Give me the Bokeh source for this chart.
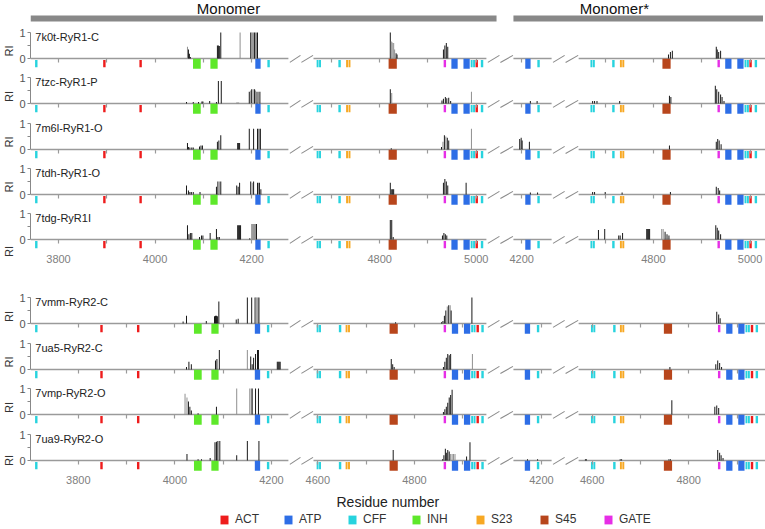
from bokeh.plotting import figure
from bokeh.models import Range1d, FixedTicker, Label, Legend, LegendItem, ColumnDataSource
from bokeh.layouts import column
from bokeh.core.properties import value
from bokeh.embed import file_html
from bokeh.resources import INLINE

FONT = "Liberation Sans"

# ---------------------------------------------------------------- data
CATEGORIES = ["ACT", "ATP", "CFF", "INH", "S23", "S45", "GATE"]
CAT_COLORS = ["#ee1c1c", "#2e6ee6", "#27d3de", "#5ee82a", "#f7a823", "#b8461c", "#e62ee6"]

GROUPS = ["Monomer", "Monomer*"]

# residue windows shown on the broken axis (A, B = Monomer ; C, D = Monomer*)
RYR1_WINDOWS = [(3742, 4276), (4663, 5021), (4183, 4262), (4645, 5032)]
RYR2_WINDOWS = [(3701, 4235), (4591, 4949), (4142, 4221), (4572, 4959)]

# site annotations (category, first residue, last residue)
RYR1_SITE_CAT = ["ACT", "ACT", "ACT", "ATP", "ATP", "ATP",
                 "CFF", "CFF", "CFF", "CFF", "CFF", "CFF", "CFF", "CFF",
                 "INH", "INH", "S23", "S23", "S45", "GATE"]
RYR1_SITE_FROM = [3893, 3968, 4999, 4208, 4949, 4974,
                  3752, 4233, 4670, 4675, 4715, 4989, 4994, 5010,
                  4079, 4115, 4731, 4736, 4819, 4933]
RYR1_SITE_TO = [3897, 3972, 5003, 4218, 4961, 4986,
                3756, 4237, 4673, 4678, 4719, 4992, 4997, 5014,
                4094, 4129, 4734, 4739, 4835, 4937]

RYR2_SITE_CAT = RYR1_SITE_CAT
RYR2_SITE_FROM = [3846, 3922, 4929, 4166, 4878, 4903,
                  3711, 4191, 4598, 4603, 4644, 4918, 4923, 4939,
                  4040, 4076, 4658, 4663, 4749, 4861]
RYR2_SITE_TO = [3850, 3926, 4933, 4176, 4890, 4915,
                3715, 4195, 4601, 4606, 4648, 4921, 4926, 4943,
                4055, 4090, 4661, 4666, 4765, 4865]

PANEL_NAMES = ["7k0t-RyR1-C", "7tzc-RyR1-P", "7m6l-RyR1-O", "7tdh-RyR1-O", "7tdg-RyR1I",
               "7vmm-RyR2-C", "7ua5-RyR2-C", "7vmp-RyR2-O", "7ua9-RyR2-O"]
PANEL_ISOFORM = [1, 1, 1, 1, 1, 2, 2, 2, 2]

# RI values per residue (Monomer) and (Monomer*); GREY = 1 for grey bars
P1_RES = [4067, 4069, 4071, 4073, 4129, 4131, 4133, 4136, 4176, 4198, 4200, 4202, 4204, 4206, 4208, 4210, 4212,
          4822, 4824, 4826, 4829, 4831, 4834, 4836, 4932, 4935, 4938, 4941]
P1_RI = [0.45, 0.35, 0.18, 0.06, 0.5, 0.5, 0.48, 1.0, 1.0, 1.0, 1.0, 1.0, 1.0, 1.0, 1.0, 1.0, 1.0,
         1.0, 0.65, 0.62, 0.6, 0.35, 0.2, 0.15, 0.35, 0.5, 0.6, 0.45]
P1_GREY = [1, 0, 0, 0, 0, 0, 0, 0, 1, 0, 1, 1, 1, 0, 1, 1, 0,
           0, 1, 1, 1, 1, 0, 0, 0, 0, 0, 0]
P1_STAR_RES = [4831, 4835, 4839, 4930, 4932, 4935, 4939]
P1_STAR_RI = [0.15, 0.25, 0.3, 0.45, 0.35, 0.25, 0.3]
P1_STAR_GREY = [0, 0, 0, 0, 0, 0, 0]

P2_RES = [4065, 4079, 4090, 4097, 4099, 4113, 4127, 4131, 4137, 4169, 4171, 4173,
          4195, 4198, 4200, 4203, 4206, 4208, 4211, 4214, 4217,
          4822, 4825, 4929, 4932, 4936, 4939, 4943, 4947, 4990]
P2_RI = [0.06, 0.06, 0.06, 0.08, 0.08, 0.1, 0.06, 0.87, 0.87, 0.04, 0.04, 0.04,
         0.45, 0.5, 0.55, 0.55, 0.55, 0.5, 0.45, 0.45, 0.45,
         0.55, 0.4, 0.12, 0.18, 0.25, 0.2, 0.22, 0.1, 0.45]
P2_GREY = [0, 0, 0, 0, 0, 0, 0, 0, 0, 1, 1, 1,
           0, 1, 0, 1, 0, 1, 0, 1, 0,
           0, 1, 0, 0, 0, 0, 0, 0, 1]
P2_STAR_RES = [4218, 4232, 4674, 4678, 4683, 4730, 4833, 4836, 4928, 4931, 4935, 4939, 4942, 4946]
P2_STAR_RI = [0.1, 0.1, 0.1, 0.1, 0.1, 0.1, 0.3, 0.25, 0.68, 0.55, 0.45, 0.35, 0.25, 0.1]
P2_STAR_GREY = [0, 0, 0, 0, 0, 0, 0, 0, 0, 0, 0, 0, 0, 0]

P3_RES = [4067, 4069, 4072, 4076, 4079, 4092, 4095, 4098, 4129, 4132, 4136, 4171, 4173, 4175,
          4195, 4204, 4212, 4214, 4216, 4218, 4824, 4928, 4931, 4934, 4937, 4940, 4943, 4990]
P3_RI = [0.25, 0.1, 0.08, 0.08, 0.08, 0.12, 0.15, 0.15, 0.3, 0.35, 0.55, 0.25, 0.25, 0.25,
         0.8, 0.8, 0.8, 0.8, 0.8, 0.8, 0.05, 0.1, 0.3, 0.55, 0.5, 0.45, 0.35, 0.8]
P3_GREY = [0, 0, 0, 0, 0, 0, 0, 0, 0, 0, 0, 0, 0, 0,
           0, 0, 0, 1, 1, 0, 0, 0, 1, 0, 1, 0, 0, 1]
P3_STAR_RES = [4196, 4199, 4201, 4216, 4833, 4930, 4933, 4936, 4940]
P3_STAR_RI = [0.4, 0.45, 0.35, 0.3, 0.15, 0.3, 0.4, 0.35, 0.2]
P3_STAR_GREY = [0, 0, 0, 0, 0, 0, 0, 0, 0]

P4_RES = [4065, 4069, 4072, 4075, 4079, 4093, 4127, 4130, 4133, 4136, 4169, 4172, 4175,
          4198, 4201, 4204, 4212, 4214, 4216, 4219, 4822, 4825, 4827, 4829, 4932, 4935, 4938, 4941, 4979]
P4_RI = [0.35, 0.15, 0.1, 0.1, 0.1, 0.1, 0.3, 0.5, 0.5, 0.5, 0.35, 0.3, 0.45,
         0.5, 0.45, 0.5, 0.45, 0.45, 0.45, 0.2, 0.45, 0.2, 0.2, 0.2, 0.45, 0.6, 0.5, 0.35, 0.45]
P4_GREY = [0, 0, 0, 0, 0, 0, 0, 0, 1, 0, 0, 0, 0,
           0, 1, 0, 0, 1, 0, 0, 0, 0, 0, 0, 0, 0, 0, 0, 0]
P4_STAR_RES = [4218, 4233, 4674, 4678, 4700, 4735, 4835, 4930, 4934, 4937]
P4_STAR_RI = [0.08, 0.08, 0.1, 0.1, 0.1, 0.08, 0.1, 0.3, 0.25, 0.15]
P4_STAR_GREY = [0, 0, 0, 0, 0, 0, 0, 0, 0, 0]

P5_RES = [4067, 4070, 4073, 4076, 4092, 4096, 4099, 4114, 4127, 4130, 4133, 4171, 4173, 4175, 4177,
          4196, 4200, 4202, 4204, 4206, 4208, 4210, 4822, 4825, 4828, 4930, 4933, 4936, 4939]
P5_RI = [0.55, 0.2, 0.25, 0.25, 0.1, 0.15, 0.15, 0.25, 0.4, 0.1, 0.1, 0.55, 0.55, 0.55, 0.55,
         0.05, 0.6, 0.6, 0.6, 0.6, 0.6, 0.6, 0.75, 0.75, 0.1, 0.15, 0.25, 0.2, 0.15]
P5_GREY = [0, 0, 0, 0, 0, 0, 0, 0, 0, 0, 0, 0, 0, 0, 0,
           0, 1, 1, 1, 1, 1, 0, 0, 0, 0, 0, 0, 0, 0]
P5_STAR_RES = [4686, 4699, 4728, 4731, 4736, 4786, 4788, 4790, 4792, 4817, 4820, 4824, 4828, 4832,
               4929, 4932, 4935, 4939]
P5_STAR_RI = [0.37, 0.4, 0.15, 0.15, 0.25, 0.4, 0.4, 0.4, 0.4, 0.4, 0.4, 0.3, 0.2, 0.15,
              0.55, 0.45, 0.35, 0.2]
P5_STAR_GREY = [0, 0, 0, 0, 0, 0, 0, 0, 0, 1, 1, 0, 0, 0, 0, 0, 0, 0]

P6_RES = [4017, 4024, 4065, 4082, 4084, 4086, 4088, 4091, 4127, 4131, 4150, 4159, 4166, 4168, 4170, 4172, 4174,
          4761, 4856, 4859, 4862, 4865, 4868, 4871, 4874, 4876, 4919]
P6_RI = [0.08, 0.3, 0.1, 0.28, 0.3, 0.3, 0.28, 0.85, 0.15, 0.18, 1.0, 1.0, 1.0, 1.0, 1.0, 1.0, 1.0,
         0.05, 0.05, 0.1, 0.3, 0.5, 0.65, 0.7, 0.7, 0.5, 1.0]
P6_GREY = [0, 0, 0, 0, 0, 0, 0, 0, 0, 0, 0, 0, 0, 1, 1, 1, 0,
           0, 0, 0, 0, 0, 1, 0, 1, 0, 0]
P6_STAR_RES = [4858, 4862, 4865]
P6_STAR_RI = [0.45, 0.35, 0.2]
P6_STAR_GREY = [0, 0, 0]

P7_RES = [4024, 4029, 4034, 4084, 4087, 4092, 4150, 4157, 4160, 4163, 4167, 4171, 4173,
          4212, 4214, 4216, 4218, 4752, 4755, 4758, 4860, 4863, 4866, 4869, 4872, 4875, 4920]
P7_RI = [0.1, 0.3, 0.2, 0.35, 0.4, 0.75, 0.75, 0.5, 0.2, 0.45, 0.6, 0.75, 0.75,
         0.3, 0.3, 0.3, 0.3, 0.4, 0.2, 0.1, 0.1, 0.3, 0.45, 0.6, 0.55, 0.6, 0.6]
P7_GREY = [0, 0, 0, 0, 0, 0, 1, 0, 0, 0, 0, 0, 0,
           0, 0, 0, 0, 0, 0, 0, 0, 0, 0, 0, 0, 0, 1]
P7_STAR_RES = [4761, 4856, 4860, 4864, 4868]
P7_STAR_RI = [0.1, 0.2, 0.35, 0.25, 0.1]
P7_STAR_GREY = [0, 0, 0, 0, 0]

P8_RES = [4021, 4025, 4028, 4031, 4034, 4048, 4086, 4128, 4155, 4158, 4160, 4167, 4173,
          4860, 4863, 4866, 4869, 4872, 4875, 4878]
P8_RI = [0.8, 0.65, 0.5, 0.3, 0.15, 0.05, 0.3, 1.0, 1.0, 1.0, 1.0, 1.0, 1.0,
         0.1, 0.2, 0.3, 0.45, 0.65, 0.75, 0.95]
P8_GREY = [1, 1, 0, 0, 0, 0, 0, 1, 1, 1, 0, 0, 0,
           0, 0, 0, 0, 0, 0, 0]
P8_STAR_RES = [4765, 4854, 4858, 4862]
P8_STAR_RI = [0.55, 0.3, 0.35, 0.25]
P8_STAR_GREY = [0, 0, 0, 0]

P9_RES = [4025, 4048, 4055, 4073, 4083, 4086, 4089, 4093, 4128, 4150, 4174,
          4756, 4858, 4861, 4864, 4866, 4869, 4872, 4875, 4878, 4881, 4884, 4908, 4915]
P9_RI = [0.25, 0.05, 0.05, 0.1, 0.7, 0.72, 0.75, 0.75, 0.2, 0.75, 0.75,
         0.4, 0.05, 0.2, 0.45, 0.3, 0.4, 0.35, 0.25, 0.25, 0.25, 0.25, 0.15, 0.7]
P9_GREY = [0, 0, 0, 0, 0, 0, 0, 0, 0, 0, 0,
           0, 0, 0, 0, 0, 0, 0, 1, 1, 1, 1, 0, 0]
P9_STAR_RES = [4171, 4192, 4586, 4588, 4658, 4661, 4759, 4762, 4860, 4864, 4867, 4871]
P9_STAR_RI = [0.05, 0.05, 0.05, 0.05, 0.05, 0.05, 0.05, 0.05, 0.4, 0.3, 0.2, 0.1]
P9_STAR_GREY = [0, 0, 0, 0, 0, 0, 0, 0, 0, 0, 0, 0]

X_TITLE = "Residue number"
Y_TITLE = "RI"

# ---------------------------------------------------------------- layout
WIN_START = [0, 586, 1000, 1135]   # composite-axis start of each residue window
X_END = 1524
FRAME_W = 736
LEFT = 27
UNIT_PX = 26.0
Y_TOP = 30 / 26.0
HEADER_H = 28
FOOTER_H = 37
FRAME_HEIGHTS = [45, 46, 45, 45, 84, 46, 45, 46, 60]
LABELLED = [False, False, False, False, True, False, False, False, True]
GROUP_TITLE_U = [410, 1209]
X_TITLE_U = 740
GREY = "#8c8c8c"
BLACK = "#111111"
AXIS_GREY = "#9a9a9a"


def win_of(r, wins, allowed):
    out = []
    for k in allowed:
        r0, r1 = wins[k]
        if r0 <= r <= r1:
            out.append(WIN_START[k] + r - r0)
    return out


def base_fig(frame_h, y_range):
    p = figure(frame_width=FRAME_W, frame_height=frame_h, x_range=Range1d(0, X_END), y_range=y_range,
               output_backend="svg", toolbar_location=None, min_border=0, min_border_left=LEFT)
    p.outline_line_color = None
    p.grid.visible = False
    p.background_fill_color = "white"
    p.border_fill_color = "white"
    return p


def make_panel(idx, res, ri, grey, sres, sri, sgrey, frame_h, labelled):
    wins = RYR1_WINDOWS if PANEL_ISOFORM[idx] == 1 else RYR2_WINDOWS
    s_cat = RYR1_SITE_CAT if PANEL_ISOFORM[idx] == 1 else RYR2_SITE_CAT
    s_from = RYR1_SITE_FROM if PANEL_ISOFORM[idx] == 1 else RYR2_SITE_FROM
    s_to = RYR1_SITE_TO if PANEL_ISOFORM[idx] == 1 else RYR2_SITE_TO
    ylo = Y_TOP - frame_h / UNIT_PX
    p = base_fig(frame_h, Range1d(ylo, Y_TOP))

    # zero line per window and break marks
    zx0 = [WIN_START[k] for k in range(4)]
    zx1 = [WIN_START[k] + wins[k][1] - wins[k][0] for k in range(4)]
    p.segment(x0=zx0, x1=zx1, y0=0, y1=0, line_color=AXIS_GREY, line_width=1.5)
    sx0, sx1 = [], []
    for k in range(3):
        g0, g1 = zx1[k], zx0[k + 1]
        mid = (g0 + g1) / 2
        sx0 += [g0 + 3, mid + 1]
        sx1 += [mid - 1, g1 - 1]
    p.segment(x0=sx0, x1=sx1, y0=-0.15, y1=0.12, line_color="#8a8a8a", line_width=1.1)

    # site annotations
    ql, qr, qt, qb, qc = [], [], [], [], []
    for c, a, b in zip(s_cat, s_from, s_to):
        for u in win_of(a, wins, range(4)):
            ql.append(u - 0.5)
            qr.append(u + (b - a) + 0.5)
            block = (b - a) >= 8
            qt.append(-0.01 if block else -0.06)
            qb.append(-0.39 if block else -0.34)
            qc.append(CAT_COLORS[CATEGORIES.index(c)])
    p.quad(left=ql, right=qr, top=qt, bottom=qb, fill_color=qc, line_color=None)

    # RI bars
    bx, bh, bc = [], [], []
    for rr, hh, gg in zip(res, ri, grey):
        for u in win_of(rr, wins, [0, 1]):
            bx.append(u); bh.append(hh); bc.append(GREY if gg else BLACK)
    for rr, hh, gg in zip(sres, sri, sgrey):
        for u in win_of(rr, wins, [2, 3]):
            bx.append(u); bh.append(hh); bc.append(GREY if gg else BLACK)
    src = ColumnDataSource(dict(x=bx, top=bh, color=bc))
    p.vbar(x="x", top="top", bottom=0, width=2.0, fill_color="color", line_color=None, source=src)

    # x axis on the zero line
    ticks, labels = [], {}
    for k, (r0, r1) in enumerate(wins):
        t = ((r0 + 99) // 100) * 100
        while t <= r1:
            u = WIN_START[k] + t - r0
            ticks.append(u)
            labels[u] = (str(t) if t % 200 == 0 else "") if labelled else ""
            t += 100
    xa = p.xaxis[0]
    xa.fixed_location = 0
    xa.ticker = FixedTicker(ticks=ticks)
    xa.major_label_overrides = labels
    xa.axis_line_color = None
    xa.major_tick_line_color = AXIS_GREY
    xa.major_tick_line_width = 1.2
    xa.major_tick_out = 4
    xa.major_tick_in = 0
    xa.minor_tick_line_color = None
    xa.major_label_text_font = FONT
    xa.major_label_text_font_size = "11px"
    xa.major_label_text_color = "#808080"
    xa.major_label_standoff = 11

    ya = p.yaxis[0]
    ya.bounds = (0, 1)
    ya.ticker = FixedTicker(ticks=[0, 1], minor_ticks=[0.5])
    ya.axis_line_color = "#888888"
    ya.major_tick_line_color = "#888888"
    ya.minor_tick_line_color = "#888888"
    ya.major_tick_out = 3
    ya.major_tick_in = 0
    ya.minor_tick_out = 3
    ya.minor_tick_in = 0
    ya.major_label_text_font = FONT
    ya.major_label_text_font_size = "11px"
    ya.major_label_text_color = "#555555"
    ya.major_label_standoff = 2
    ya.axis_label = Y_TITLE
    ya.axis_label_text_font = FONT
    ya.axis_label_text_font_size = "11px"
    ya.axis_label_text_font_style = "normal"
    ya.axis_label_text_color = "#333333"
    ya.axis_label_standoff = 1

    p.add_layout(Label(x=10, y=0.82, text=PANEL_NAMES[idx], text_font=FONT, text_font_size="11px",
                       text_baseline="middle", text_color="#222222"))
    return p


# header
hdr = base_fig(HEADER_H, Range1d(0, HEADER_H))
hdr.axis.visible = False
hl = [WIN_START[0], WIN_START[2]]
hr = [min(WIN_START[1] + RYR1_WINDOWS[1][1] - RYR1_WINDOWS[1][0] + 21, X_END),
      min(WIN_START[3] + RYR1_WINDOWS[3][1] - RYR1_WINDOWS[3][0] + 21, X_END)]
hdr.quad(left=hl, right=hr, bottom=7, top=13, fill_color="#888888", line_color=None)
hdr.text(x=GROUP_TITLE_U, y=[HEADER_H - 7.8, HEADER_H - 7.8], text=GROUPS, text_align="center",
         text_baseline="middle", text_font=value(FONT), text_font_size="15px", text_color="#111111")

panels = []
data = [(P1_RES, P1_RI, P1_GREY, P1_STAR_RES, P1_STAR_RI, P1_STAR_GREY),
        (P2_RES, P2_RI, P2_GREY, P2_STAR_RES, P2_STAR_RI, P2_STAR_GREY),
        (P3_RES, P3_RI, P3_GREY, P3_STAR_RES, P3_STAR_RI, P3_STAR_GREY),
        (P4_RES, P4_RI, P4_GREY, P4_STAR_RES, P4_STAR_RI, P4_STAR_GREY),
        (P5_RES, P5_RI, P5_GREY, P5_STAR_RES, P5_STAR_RI, P5_STAR_GREY),
        (P6_RES, P6_RI, P6_GREY, P6_STAR_RES, P6_STAR_RI, P6_STAR_GREY),
        (P7_RES, P7_RI, P7_GREY, P7_STAR_RES, P7_STAR_RI, P7_STAR_GREY),
        (P8_RES, P8_RI, P8_GREY, P8_STAR_RES, P8_STAR_RI, P8_STAR_GREY),
        (P9_RES, P9_RI, P9_GREY, P9_STAR_RES, P9_STAR_RI, P9_STAR_GREY)]
for i, d in enumerate(data):
    panels.append(make_panel(i, *d, FRAME_HEIGHTS[i], LABELLED[i]))

# footer: axis title and legend
bot = base_fig(FOOTER_H, Range1d(0, FOOTER_H))
bot.axis.visible = False
bot.text(x=[X_TITLE_U], y=[FOOTER_H - 11.5], text=[X_TITLE], text_align="center", text_baseline="middle",
         text_font=value(FONT), text_font_size="14px", text_color="#222222")
items = []
for cat, col in zip(CATEGORIES, CAT_COLORS):
    # legend-only renderer: its single quad sits outside the visible y range
    r = bot.quad(left=[0], right=[1], top=[-10], bottom=[-11], fill_color=col, line_color=None)
    items.append(LegendItem(label=cat, renderers=[r]))
leg = Legend(items=items, orientation="horizontal", location=(210, 1), border_line_color=None,
             background_fill_alpha=0, glyph_width=10, glyph_height=11, label_standoff=6, spacing=20,
             label_width=28, label_height=12, padding=0, margin=0, label_text_font=FONT,
             label_text_font_size="12px", label_text_color="#333333")
bot.add_layout(leg)

layout = column(hdr, *panels, bot)
open("out.html", "w").write(file_html(layout, INLINE))
